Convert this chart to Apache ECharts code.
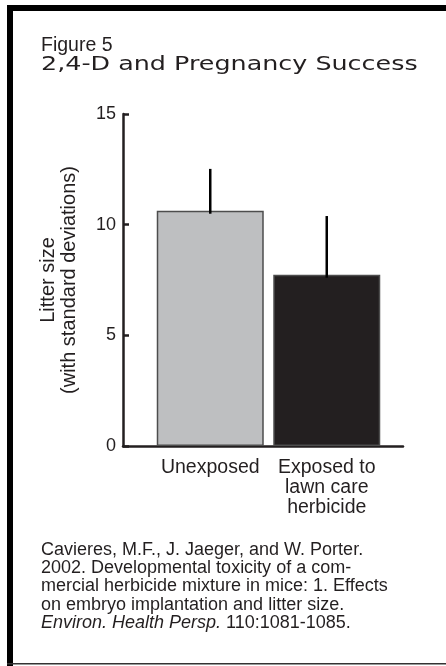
<!DOCTYPE html>
<html>
<head>
<meta charset="utf-8">
<script src="https://cdn.jsdelivr.net/npm/echarts@6/dist/echarts.min.js"></script>
<style>html,body{margin:0;padding:0;background:#fff}#c{width:446px;height:666px}</style>
</head>
<body>
<div id="c"></div>
<script>
const categories = ['Unexposed', 'Exposed to\nlawn care\nherbicide'];
const meanLitter = [10.63, 7.74];
const sdLitter = [1.89, 2.65];
const yTicks = [0, 5, 10, 15];
const barColors = ['#bebfc1', '#231f20'];

const FONT = '"Liberation Sans", Arial, sans-serif';
const chart = echarts.init(document.getElementById('c'), null, {renderer: 'canvas'});

const option = {
  backgroundColor: '#fff',
  animation: false,
  title: [
    {text: 'Figure 5', left: 41, top: 36, padding: 0, textStyle: {fontFamily: FONT, fontSize: 19.5, fontWeight: 'normal', color: '#231f20'}},
    {
      text: 'Cavieres, M.F., J. Jaeger, and W. Porter.\n2002. Developmental toxicity of a com-\nmercial herbicide mixture in mice: 1. Effects\non embryo implantation and litter size.\n{i|Environ. Health Persp.} 110:1081-1085.',
      left: 41, top: 541, padding: 0,
      textStyle: {
        fontFamily: FONT, fontSize: 18, fontWeight: 'normal', lineHeight: 18.2, color: '#231f20',
        rich: {i: {fontFamily: FONT, fontSize: 18, fontStyle: 'italic', lineHeight: 18.2, color: '#231f20'}}
      }
    }
  ],
  graphic: [
    {type: 'rect', shape: {x: 7, y: 5, width: 6, height: 661}, style: {fill: '#000'}},
    {type: 'rect', shape: {x: 7, y: 5, width: 439, height: 6}, style: {fill: '#000'}},
    {type: 'rect', shape: {x: 7, y: 663, width: 439, height: 1.5}, style: {fill: '#333'}},
    {
      type: 'text', x: 41, y: 55, scaleX: 1.27,
      style: {text: '2,4-D and Pregnancy Success', font: '20px "DejaVu Sans", sans-serif', fill: '#231f20', verticalAlign: 'top', align: 'left'}
    }
  ],
  grid: [
    {left: 123, right: 43, top: 114, bottom: 220},
    {left: 152, right: 61, top: 114, bottom: 220}
  ],
  xAxis: [
    {
      gridIndex: 0, type: 'category', data: [''],
      axisLine: {show: true, onZero: false, lineStyle: {color: '#231f20', width: 2.5}},
      axisTick: {show: false}, axisLabel: {show: false}, splitLine: {show: false}
    },
    {
      gridIndex: 1, type: 'category', data: categories,
      axisLine: {show: false}, axisTick: {show: false}, splitLine: {show: false},
      axisLabel: {margin: 12, fontFamily: FONT, fontSize: 19.5, lineHeight: 20, color: '#231f20', interval: 0}
    }
  ],
  yAxis: [
    {
      gridIndex: 0, type: 'value', min: 0, max: 15, interval: 5,
      name: 'Litter size\n(with standard deviations)', nameLocation: 'middle', nameGap: 43.5, nameRotate: 90,
      nameTextStyle: {fontFamily: FONT, fontSize: 20, lineHeight: 21, color: '#231f20'},
      axisLine: {show: true, lineStyle: {color: '#231f20', width: 2.5}},
      axisTick: {show: true, inside: true, length: 6, lineStyle: {color: '#231f20', width: 2.5}},
      axisLabel: {margin: 7, fontFamily: FONT, fontSize: 18, color: '#231f20',
        customValues: yTicks},
      splitLine: {show: false}
    },
    {
      gridIndex: 1, type: 'value', min: 0, max: 15, interval: 5, show: false
    }
  ],
  series: [
    {
      type: 'bar', xAxisIndex: 1, yAxisIndex: 1, barWidth: 107,
      data: meanLitter.map((v, i) => ({value: v, itemStyle: {color: barColors[i], borderColor: '#4d4d4d', borderWidth: 1.5}}))
    },
    {
      type: 'custom', xAxisIndex: 1, yAxisIndex: 1, z: 3,
      data: meanLitter.map((v, i) => [i, v, v + sdLitter[i]]),
      renderItem: function (params, api) {
        const p0 = api.coord([api.value(0), api.value(1)]);
        const p1 = api.coord([api.value(0), api.value(2)]);
        return {type: 'line', shape: {x1: p0[0], y1: p0[1] + 3, x2: p1[0], y2: p1[1]}, style: {stroke: '#000', lineWidth: 2.5}};
      }
    }
  ]
};
chart.setOption(option);
</script>
</body>
</html>
